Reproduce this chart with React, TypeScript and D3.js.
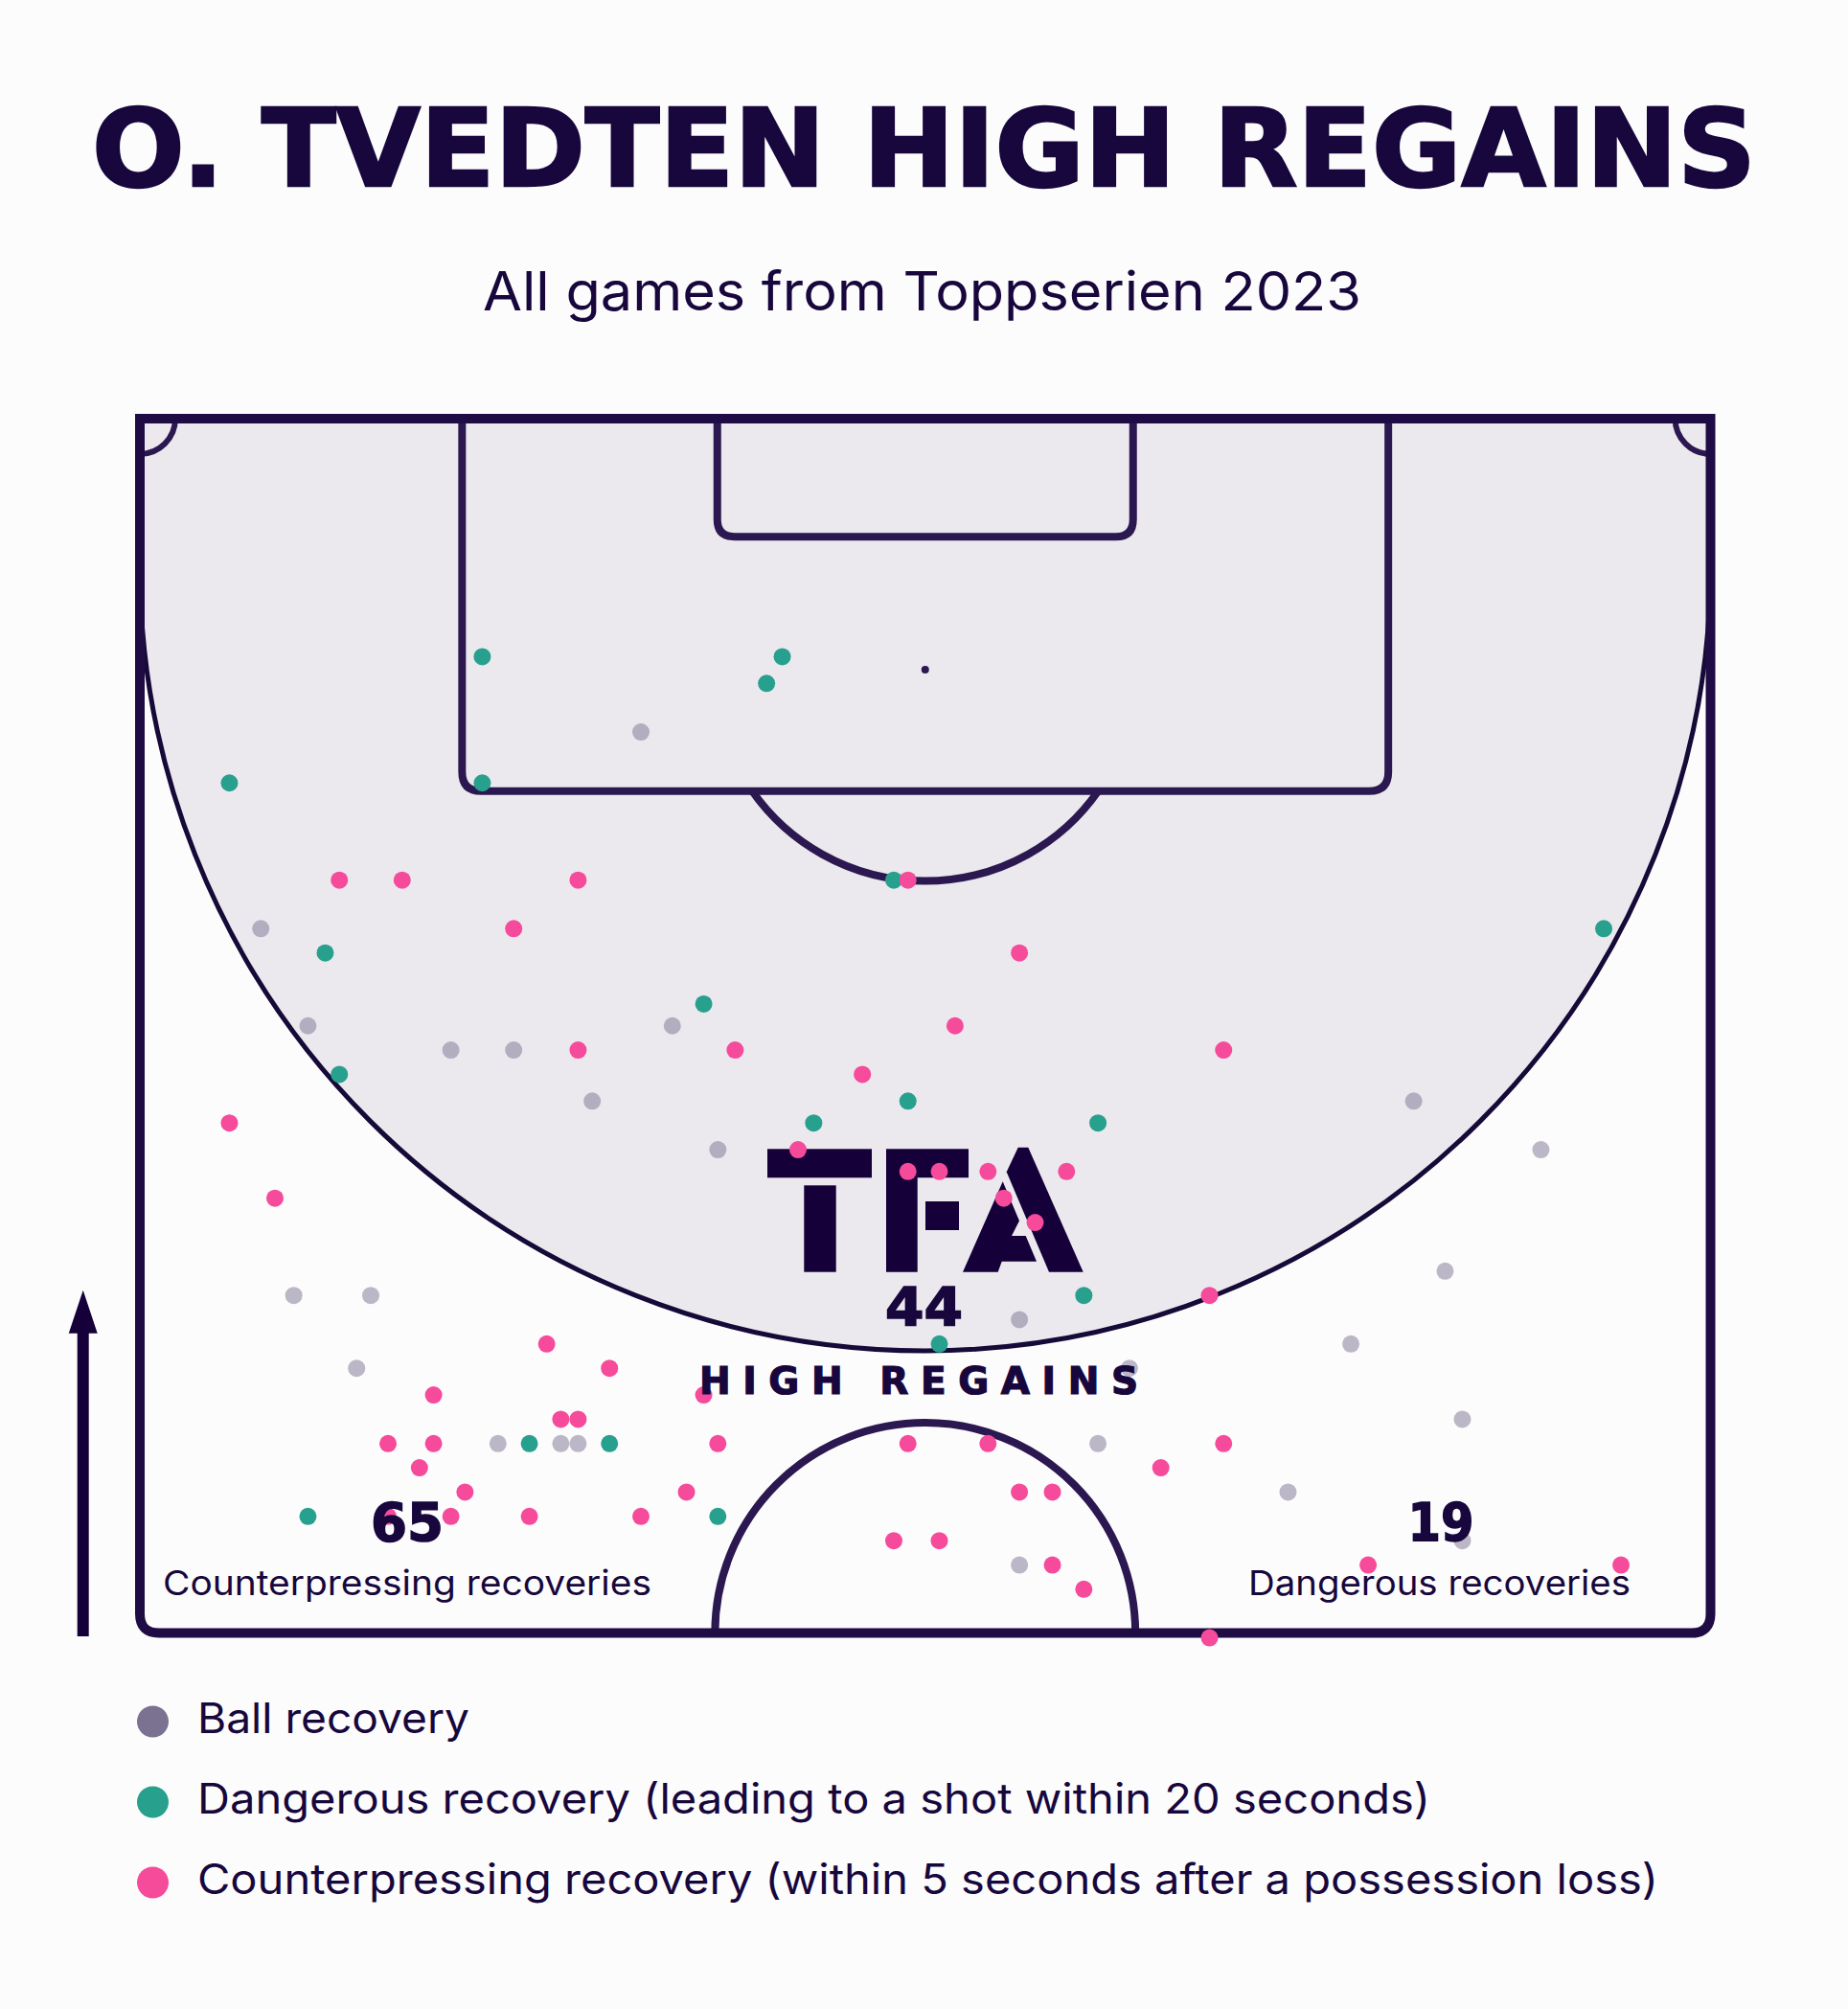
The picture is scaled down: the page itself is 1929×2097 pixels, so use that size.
import React from 'react';
import * as d3 from 'd3';

// recoveries in Opta units: [across (0-100, left to right), along (100 = goal line)]
const ballRecoveries: [number, number][] = [
  [31.9, 87.1], [7.7, 79.0], [10.7, 75.0], [33.9, 75.0], [19.8, 74.0], [23.8, 74.0],
  [28.8, 71.9], [36.8, 69.9], [9.8, 63.9], [14.7, 63.9], [13.8, 60.9], [22.8, 57.8],
  [26.8, 57.8], [27.9, 57.8], [81.1, 71.9], [89.2, 69.9], [83.1, 64.9], [56.0, 62.9],
  [77.1, 61.9], [63.0, 60.9], [84.2, 58.8], [61.0, 57.8], [73.1, 55.8], [84.2, 53.8],
  [56.0, 52.8],
];

const dangerousRecoveries: [number, number][] = [
  [21.8, 90.2], [40.9, 90.2], [39.9, 89.1], [5.7, 85.0], [21.8, 85.0], [48.0, 81.0],
  [93.2, 79.0], [11.8, 78.0], [35.9, 75.9], [12.7, 73.0], [48.9, 71.9], [42.9, 71.0],
  [61.0, 71.0], [60.1, 63.9], [50.9, 61.9], [24.8, 57.8], [29.9, 57.8], [10.7, 54.8],
  [36.8, 54.8],
];

const counterpressRecoveries: [number, number][] = [
  [48.9, 81.0], [12.7, 81.0], [16.7, 81.0], [27.9, 81.0], [23.8, 79.0], [56.0, 78.0],
  [51.9, 75.0], [27.9, 74.0], [37.9, 74.0], [69.0, 74.0], [46.0, 73.0], [5.7, 71.0],
  [41.9, 69.9], [48.9, 69.0], [50.9, 69.0], [54.0, 69.0], [59.0, 69.0], [55.0, 67.9],
  [57.0, 66.9], [8.6, 67.9], [68.1, 63.9], [25.9, 61.9], [29.9, 60.9], [18.7, 59.8],
  [35.9, 59.8], [26.8, 58.8], [27.9, 58.8], [15.8, 57.8], [18.7, 57.8], [36.8, 57.8],
  [48.9, 57.8], [54.0, 57.8], [69.0, 57.8], [17.8, 56.8], [65.0, 56.8], [20.7, 55.8],
  [34.8, 55.8], [56.0, 55.8], [58.1, 55.8], [15.8, 54.8], [19.8, 54.8], [24.8, 54.8],
  [31.9, 54.8], [48.0, 53.8], [50.9, 53.8], [58.1, 52.8], [78.2, 52.8], [94.3, 52.8],
  [60.1, 51.8], [68.1, 49.8],
];

const legendLabels = [
  'Ball recovery',
  'Dangerous recovery (leading to a shot within 20 seconds)',
  'Counterpressing recovery (within 5 seconds after a possession loss)',
];

const statValues = ['65', '44', '19'];
const statLabels = ['Counterpressing recoveries', 'HIGH REGAINS', 'Dangerous recoveries'];

const W = 1929;
const H = 2097;
const INK = '#17073d';
const LINE = '#2b1850';
const GREY = '#7b7191';
const TEAL = '#27a08e';
const PINK = '#f64a9b';
const ZONE = '#ebe8ee';
const BG = '#fcfcfc';

export default function App() {
  // data scales (opta units)
  const x = d3.scaleLinear().domain([0, 100]).range([146, 1785.5]);
  const y = d3.scaleLinear().domain([100, 50]).range([437, 1704.5]);
  // pitch scales in metres
  const mx = d3.scaleLinear().domain([0, 68]).range([146, 1785.5]);
  const my = d3.scaleLinear().domain([0, 52.5]).range([437, 1704.5]);
  const k = mx(1) - mx(0);

  const L = mx(0), R = mx(68), T = my(0), B = my(52.5), CX = mx(34);

  // box open at the goal line with rounded bottom corners
  const box = (halfW: number, depth: number, r: number) => {
    const l = mx(34 - halfW), rr = mx(34 + halfW), b = my(depth);
    return `M${l},${T} L${l},${b - r} Q${l},${b} ${l + r},${b} L${rr - r},${b} Q${rr},${b} ${rr},${b - r} L${rr},${T}`;
  };

  const outer = `M${L},${T} L${R},${T} L${R},${B - 20} Q${R},${B} ${R - 20},${B} L${L + 20},${B} Q${L},${B} ${L},${B - 20} Z`;

  // high regain zone: full width down to centre, semicircle below (40m deep)
  const zoneR = 34 * k;
  const zoneCy = my(40.3) - zoneR;
  const zoneFill = `M${L},${T} L${R},${T} L${R},${zoneCy} A${zoneR},${zoneR} 0 0 1 ${L},${zoneCy} Z`;
  const zoneArc = `M${R},${zoneCy} A${zoneR},${zoneR} 0 0 1 ${L},${zoneCy}`;

  const spotY = my(10.85);
  const arcR = 9.15 * k;
  const penB = my(16.1);
  const hc = Math.sqrt(arcR * arcR - (penB - spotY) ** 2);
  const penArc = `M${CX - hc},${penB} A${arcR},${arcR} 0 0 0 ${CX + hc},${penB}`;
  const centreR = 9.1 * k;
  const centreArc = `M${CX - centreR},${B} A${centreR},${centreR} 0 0 1 ${CX + centreR},${B}`;
  const cr = 1.53 * k;
  const cornerL = `M${L + cr},${T} A${cr},${cr} 0 0 1 ${L},${T + cr}`;
  const cornerR = `M${R - cr},${T} A${cr},${cr} 0 0 0 ${R},${T + cr}`;

  const dot = (pts: [number, number][], fill: string, opacity = 1) =>
    pts.map((d, i) => (
      <circle key={i} cx={x(d[0])} cy={y(d[1])} r={9} fill={fill} fillOpacity={opacity} />
    ));

  const legendColors = [GREY, TEAL, PINK];
  const legendWidths = [284, 1287, 1525];

  return (
    <div style={{ position: 'absolute', left: 0, top: 0 }}>
      <svg width={W} height={H} style={{ display: 'block' }}>
        <rect width={W} height={H} fill={BG} />

        <text x={964.5} y={194} textAnchor="middle" fill={INK} stroke={INK} strokeWidth={2.5}
          fontFamily="DejaVu Sans" fontWeight={700} fontSize={112} textLength={1737}
          lengthAdjust="spacingAndGlyphs">O. TVEDTEN HIGH REGAINS</text>
        <text x={962.5} y={324} textAnchor="middle" fill={INK} fontFamily="Inter" fontWeight={400}
          fontSize={56} textLength={917} lengthAdjust="spacingAndGlyphs">All games from Toppserien 2023</text>

        {/* pitch */}
        <path d={zoneFill} fill={ZONE} />
        <path d={zoneArc} fill="none" stroke="#150a38" strokeWidth={5} />
        <g fill="none" stroke={LINE} strokeWidth={8}>
          <path d={box(20.05, 16.1, 20)} />
          <path d={box(9.0, 5.1, 18)} />
          <path d={penArc} />
          <path d={centreArc} />
        </g>
        <g fill="none" stroke={LINE} strokeWidth={6}>
          <path d={cornerL} />
          <path d={cornerR} />
        </g>
        <circle cx={CX} cy={spotY} r={4} fill={LINE} />
        <path d={outer} fill="none" stroke="#1f0c44" strokeWidth={10} />

        {/* TFA mark */}
        <g transform="translate(801,1197.7)" fill="#15003a">
          <rect x={0} y={1.6} width={109} height={30} />
          <rect x={38.3} y={39.6} width={33.4} height={90.4} />
          <path d="M124,1.6 L210,1.6 L210,31.6 L156.7,31.6 L156.7,130 L124,130 Z" />
          <rect x={165} y={56.3} width={35} height={30} />
          <path d="M261.7,0 L272.3,0 L329.7,130 L294,130 L249.7,25.6 Z" />
          <path d="M245.7,35.6 L263,76.6 L255,92.3 L269.7,92.3 L281,119 L244.7,119 L240.7,130 L204,130 Z" />
        </g>

        {/* recoveries */}
        <g>{dot(ballRecoveries, GREY, 0.5)}</g>
        <g>{dot(dangerousRecoveries, TEAL)}</g>
        <g>{dot(counterpressRecoveries, PINK)}</g>

        {/* stats */}
        <g fill={INK}>
          <text x={425} y={1608} textAnchor="middle" stroke={INK} strokeWidth={1.5} fontFamily="DejaVu Sans"
            fontWeight={700} fontSize={55} textLength={76} lengthAdjust="spacingAndGlyphs">{statValues[0]}</text>
          <text x={425} y={1665} textAnchor="middle" fontFamily="Inter" fontSize={36}
            textLength={510} lengthAdjust="spacingAndGlyphs">{statLabels[0]}</text>
          <text x={964.5} y={1383} textAnchor="middle" stroke={INK} strokeWidth={1.5} fontFamily="DejaVu Sans"
            fontWeight={700} fontSize={55} textLength={81} lengthAdjust="spacingAndGlyphs">{statValues[1]}</text>
          <text x={959} y={1455} textAnchor="middle" stroke={INK} strokeWidth={1.2} fontFamily="DejaVu Sans"
            fontWeight={700} fontSize={39} textLength={458} lengthAdjust="spacing">{statLabels[1]}</text>
          <text x={1504} y={1608} textAnchor="middle" stroke={INK} strokeWidth={1.5} fontFamily="DejaVu Sans"
            fontWeight={700} fontSize={55} textLength={69} lengthAdjust="spacingAndGlyphs">{statValues[2]}</text>
          <text x={1502.5} y={1665} textAnchor="middle" fontFamily="Inter" fontSize={36}
            textLength={399} lengthAdjust="spacingAndGlyphs">{statLabels[2]}</text>
        </g>

        {/* direction arrow */}
        <rect x={80.7} y={1385} width={12} height={323} fill="#15003a" />
        <path d="M86.7,1346.7 L101.7,1391.7 L71.7,1391.7 Z" fill="#15003a" />

        {/* legend */}
        {legendLabels.map((lab, i) => {
          const cy = 1797 + i * 84;
          return (
            <g key={lab}>
              <circle cx={159.5} cy={cy} r={16.5} fill={legendColors[i]} />
              <text x={206} y={cy + 12} fill={INK} fontFamily="Inter" fontSize={44}
                textLength={legendWidths[i]} lengthAdjust="spacingAndGlyphs">{lab}</text>
            </g>
          );
        })}
      </svg>
    </div>
  );
}
